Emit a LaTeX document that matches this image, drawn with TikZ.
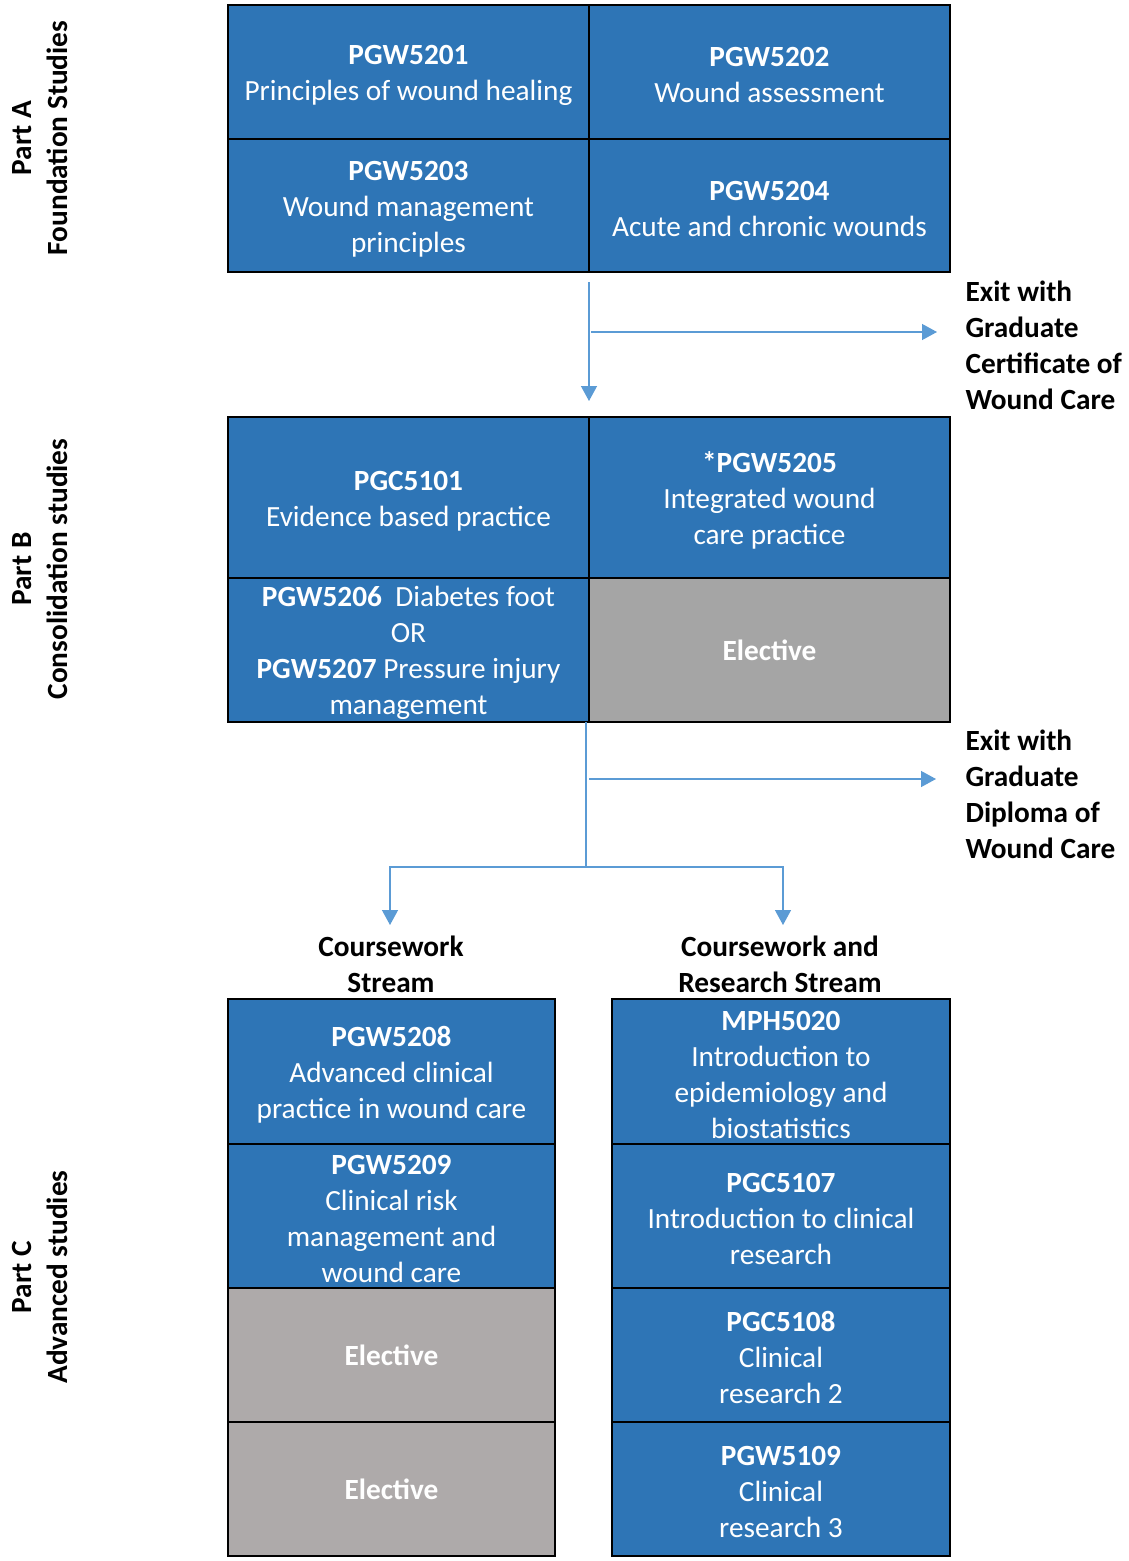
\documentclass[tikz,border=0pt]{standalone}
\usepackage{fontspec}
\setmainfont{Carlito}
\usetikzlibrary{arrows.meta,positioning}
\definecolor{unitblue}{HTML}{2E75B6}
\definecolor{elecgrey}{HTML}{A5A5A5}
\definecolor{elecgreyc}{HTML}{AEAAAA}
\definecolor{flowblue}{HTML}{5B9BD5}
\newcommand{\chartfont}{\fontsize{29.3}{36}\selectfont}
\newcommand{\unitcode}[1]{\rule{0pt}{26pt}\textbf{#1}}
\begin{document}
\begin{tikzpicture}[x=1pt,y=-1pt,
    cell/.style={draw=black, line width=1.6pt, inner sep=0pt, outer sep=0pt, text=white, align=center},
    unit/.style={cell, fill=unitblue, font=\chartfont},
    elective/.style={cell, fill=elecgrey, font=\chartfont\bfseries},
    flow/.style={draw=flowblue, line width=1.3pt, -{Triangle[length=15pt,width=16pt]}},
    exitlabel/.style={anchor=west, align=left, font=\chartfont\bfseries},
    streamlabel/.style={align=center, font=\chartfont\bfseries},
    partlabel/.style={rotate=90, align=center, font=\chartfont\bfseries}]
    \useasboundingbox (0,0) rectangle (1129,1561);
    % Part A
    \node [unit, anchor=north west, minimum width=361pt, minimum height=134pt] (a1) at (228,5) {\unitcode{PGW5201}\\Principles of wound healing};
    \node [unit, minimum width=361pt, minimum height=134pt, right=0pt of a1] (a2) {\unitcode{PGW5202}\\Wound assessment};
    \node [unit, minimum width=361pt, minimum height=133pt, below=0pt of a1] (a3) {\unitcode{PGW5203}\\Wound management\\principles};
    \node [unit, minimum width=361pt, minimum height=133pt, right=0pt of a3] (a4) {\unitcode{PGW5204}\\Acute and chronic wounds};
    % Part B
    \node [unit, anchor=north west, minimum width=361pt, minimum height=161pt] (b1) at (228,417) {\unitcode{PGC5101}\\Evidence based practice};
    \node [unit, minimum width=361pt, minimum height=161pt, right=0pt of b1] (b2) {\unitcode{*PGW5205}\\Integrated wound\\care practice};
    \node [unit, minimum width=361pt, minimum height=144pt, below=0pt of b1] (b3) {\unitcode{PGW5206}\ \ Diabetes foot\\OR\\\textbf{PGW5207} Pressure injury\\management};
    \node [elective, minimum width=361pt, minimum height=144pt, right=0pt of b3] (b4) {Elective};
    % Part C, coursework stream
    \node [unit, anchor=north west, minimum width=327pt, minimum height=145pt] (c1) at (228,999) {\unitcode{PGW5208}\\Advanced clinical\\practice in wound care};
    \node [unit, minimum width=327pt, minimum height=144pt, below=0pt of c1] (c2) {\unitcode{PGW5209}\\Clinical risk\\management and\\wound care};
    \node [elective, fill=elecgreyc, minimum width=327pt, minimum height=134pt, below=0pt of c2] (c3) {Elective};
    \node [elective, fill=elecgreyc, minimum width=327pt, minimum height=134pt, below=0pt of c3] (c4) {Elective};
    % Part C, coursework and research stream
    \node [unit, anchor=north west, minimum width=338pt, minimum height=145pt] (d1) at (612,999) {\unitcode{MPH5020}\\Introduction to\\epidemiology and\\biostatistics};
    \node [unit, minimum width=338pt, minimum height=144pt, below=0pt of d1] (d2) {\unitcode{PGC5107}\\Introduction to clinical\\research};
    \node [unit, minimum width=338pt, minimum height=134pt, below=0pt of d2] (d3) {\unitcode{PGC5108}\\Clinical\\research 2};
    \node [unit, minimum width=338pt, minimum height=134pt, below=0pt of d3] (d4) {\unitcode{PGW5109}\\Clinical\\research 3};
    % labels
    \node [partlabel] (pa) at (40,138) {Part A\\Foundation Studies};
    \node [partlabel] (pb) at (40,569) {Part B\\Consolidation studies};
    \node [partlabel] (pc) at (40,1277) {Part C\\Advanced studies};
    \node [exitlabel] (x1) at (962,345) {Exit with\\Graduate\\Certificate of\\Wound Care};
    \node [exitlabel] (x2) at (962,794) {Exit with\\Graduate\\Diploma of\\Wound Care};
    \node [streamlabel] (s1) at (391,964) {Coursework\\Stream};
    \node [streamlabel] (s2) at (780,964) {Coursework and\\Research Stream};
    % arrows
    \coordinate (ta) at (589,282);
    \coordinate (tb) at (589,401);
    \coordinate (ha) at (591,332);
    \coordinate (hb) at (937,332);
    \coordinate (tc) at (586,722);
    \coordinate (td) at (586,867);
    \coordinate (hc) at (589,779);
    \coordinate (hd) at (936,779);
    \coordinate (sa) at (390,925);
    \coordinate (sb) at (783,925);
    \draw [flow] (ta) -- (tb);
    \draw [flow] (ha) -- (hb);
    \draw [flow, -] (tc) -- (td);
    \draw [flow] (hc) -- (hd);
    \draw [flow] (td) -| (sa);
    \draw [flow] (td) -| (sb);
\end{tikzpicture}
\end{document}
